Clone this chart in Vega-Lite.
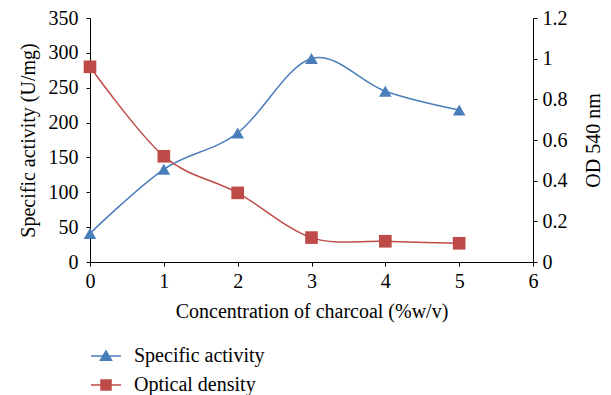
{
  "$schema": "https://vega.github.io/schema/vega-lite/v6.json",
  "width": 443,
  "height": 244,
  "autosize": {"type": "none"},
  "padding": {"left": 90, "top": 18, "right": 78, "bottom": 133},
  "background": "white",
  "config": {
    "view": {"stroke": null},
    "style": {
      "guide-label": {"font": "Liberation Serif", "fontSize": 20, "fill": "black"},
      "guide-title": {"font": "Liberation Serif", "fontSize": 20, "fill": "black", "fontWeight": "normal"}
    },
    "axis": {
      "labelFont": "Liberation Serif",
      "titleFont": "Liberation Serif",
      "labelFontSize": 20,
      "titleFontSize": 20,
      "titleFontWeight": "normal",
      "labelColor": "black",
      "titleColor": "black",
      "domainColor": "black",
      "tickColor": "black",
      "grid": false,
      "tickSize": 4,
      "domainWidth": 1,
      "tickWidth": 1,
      "labelFlush": false
    },
    "legend": {
      "labelFont": "Liberation Serif",
      "labelFontSize": 20,
      "labelColor": "black"
    }
  },
  "datasets": {
    "activity": [
      {"conc": 0, "series": "Specific activity", "value": 41},
      {"conc": 1, "series": "Specific activity", "value": 133},
      {"conc": 2, "series": "Specific activity", "value": 185},
      {"conc": 3, "series": "Specific activity", "value": 292},
      {"conc": 4, "series": "Specific activity", "value": 245},
      {"conc": 5, "series": "Specific activity", "value": 218}
    ],
    "od": [
      {"conc": 0, "series": "Optical density", "value": 0.96},
      {"conc": 1, "series": "Optical density", "value": 0.52},
      {"conc": 2, "series": "Optical density", "value": 0.34},
      {"conc": 3, "series": "Optical density", "value": 0.12},
      {"conc": 4, "series": "Optical density", "value": 0.102},
      {"conc": 5, "series": "Optical density", "value": 0.092}
    ]
  },
  "encoding": {
    "x": {
      "field": "conc",
      "type": "quantitative",
      "scale": {"domain": [0, 6], "nice": false},
      "axis": {
        "values": [0, 1, 2, 3, 4, 5, 6],
        "format": "d",
        "title": "Concentration of charcoal (%w/v)",
        "labelFont": "Liberation Serif",
        "labelFlush": false,
        "labelPadding": 5,
        "titlePadding": 10
      }
    },
    "color": {
      "field": "series",
      "type": "nominal",
      "scale": {
        "domain": ["Specific activity", "Optical density"],
        "range": ["#4a7ebb", "#be4b48"]
      },
      "legend": {
        "title": null,
        "orient": "none",
        "legendX": 5,
        "legendY": 327,
        "padding": 0,
        "symbolSize": 400,
        "symbolStrokeWidth": 1.5,
        "labelOffset": 17,
        "rowPadding": 8,
        "labelFont": "Liberation Serif",
        "labelFontSize": 20,
        "labelBaseline": "middle",
        "encode": {
          "symbols": {
            "update": {
              "shape": {"signal": "datum.value === 'Specific activity' ? 'M-1.5,0H1.5M-0.55,0.42L0,-0.5L0.55,0.42Z' : 'M-1.5,0H1.5M-0.5,-0.5H0.5V0.5H-0.5Z'"},
              "fill": {"signal": "datum.value === 'Specific activity' ? '#4a7ebb' : '#be4b48'"},
              "stroke": {"signal": "datum.value === 'Specific activity' ? '#4a7ebb' : '#be4b48'"},
              "strokeWidth": {"value": 1.5}
            }
          },
          "labels": {
            "update": {
              "font": {"value": "Liberation Serif"},
              "fontSize": {"value": 20},
              "fill": {"value": "black"}
            }
          }
        }
      }
    }
  },
  "layer": [
    {
      "data": {"name": "activity"},
      "encoding": {
        "y": {
          "field": "value",
          "type": "quantitative",
          "scale": {"domain": [0, 350], "nice": false},
          "axis": {
            "orient": "left",
            "values": [0, 50, 100, 150, 200, 250, 300, 350],
            "title": "Specific activity (U/mg)",
            "labelFont": "Liberation Serif",
            "labelPadding": 8,
            "titlePadding": 10
          }
        }
      },
      "layer": [
        {"mark": {"type": "line", "interpolate": "cardinal", "strokeWidth": 1.5}},
        {"mark": {"type": "point", "filled": true, "opacity": 1, "shape": "triangle-up", "size": 160}}
      ]
    },
    {
      "data": {"name": "od"},
      "encoding": {
        "y": {
          "field": "value",
          "type": "quantitative",
          "scale": {"domain": [0, 1.2], "nice": false},
          "axis": {
            "orient": "right",
            "values": [0, 0.2, 0.4, 0.6, 0.8, 1, 1.2],
            "format": "~g",
            "title": "OD 540 nm",
            "labelFont": "Liberation Serif",
            "titleAngle": 270,
            "titleBaseline": "top",
            "labelPadding": 5,
            "titlePadding": 16
          }
        }
      },
      "layer": [
        {"mark": {"type": "line", "interpolate": "cardinal", "strokeWidth": 1.5}},
        {"mark": {"type": "point", "filled": true, "opacity": 1, "shape": "square", "size": 160}}
      ]
    }
  ],
  "resolve": {"scale": {"y": "independent"}}
}
